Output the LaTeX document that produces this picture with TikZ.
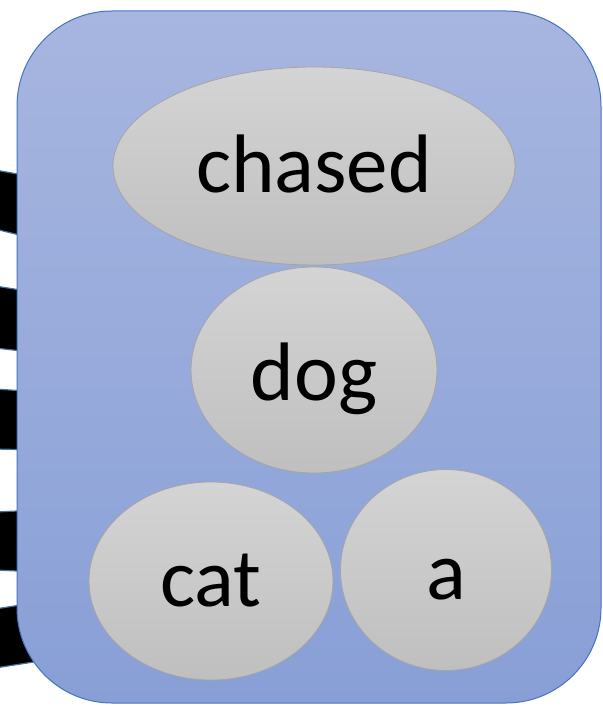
\documentclass[tikz,border=0pt]{standalone}
\usepackage{fontspec}
\setmainfont{Carlito}
\usetikzlibrary{shapes.geometric}
\definecolor{boxtop}{HTML}{A7B6E0}
\definecolor{boxbot}{HTML}{889FD6}
\definecolor{boxline}{HTML}{4472C4}
\definecolor{elltop}{HTML}{D4D4D4}
\definecolor{ellbot}{HTML}{BFBFBF}
\definecolor{ellline}{HTML}{A5A5A5}
\definecolor{bandline}{HTML}{41719C}
\newcommand{\wordtext}[2]{\smash{\raisebox{-#1}{#2}}}
\tikzset{
  band/.style={fill=black, draw=bandline, line width=1.2pt},
  word/.style={ellipse, inner sep=0pt, draw=ellline, line width=0.8pt,
    top color=elltop, bottom color=ellbot, font=\fontsize{83}{90}\selectfont},
}
\begin{document}
\begin{tikzpicture}[x=1pt,y=-1pt]
\useasboundingbox (0,0) rectangle (602,706);
% black bands entering from the left
\draw[band] (-5,170) -- (40,178) -- (40,240) -- (-5,229) -- cycle;
\draw[band] (-5,286) -- (40,293) -- (40,353) -- (-5,348) -- cycle;
\draw[band] (-5,389) -- (40,392) -- (40,450) -- (-5,449) -- cycle;
\draw[band] (-5,512) -- (40,510) -- (40,572) -- (-5,570) -- cycle;
\draw[band] (-5,609) -- (40,602) -- (40,661) -- (-5,668) -- cycle;
% container
\path[draw=boxline, line width=1pt, top color=boxtop, bottom color=boxbot, rounded corners=95pt]
  (17,11) rectangle (601,703);
% words
\node[word, minimum width=402pt, minimum height=198pt] (chased) at (314,166) {\wordtext{26pt}{chased}};
\node[word, minimum width=246pt, minimum height=206pt] (dog) at (314,370) {\wordtext{30pt}{dog}};
\node[word, minimum width=244pt, minimum height=198pt] (cat) at (211,581) {\wordtext{25pt}{cat}};
\node[word, minimum width=211pt, minimum height=201pt] (a) at (446,570) {\wordtext{29pt}{a}};
\end{tikzpicture}
\end{document}
